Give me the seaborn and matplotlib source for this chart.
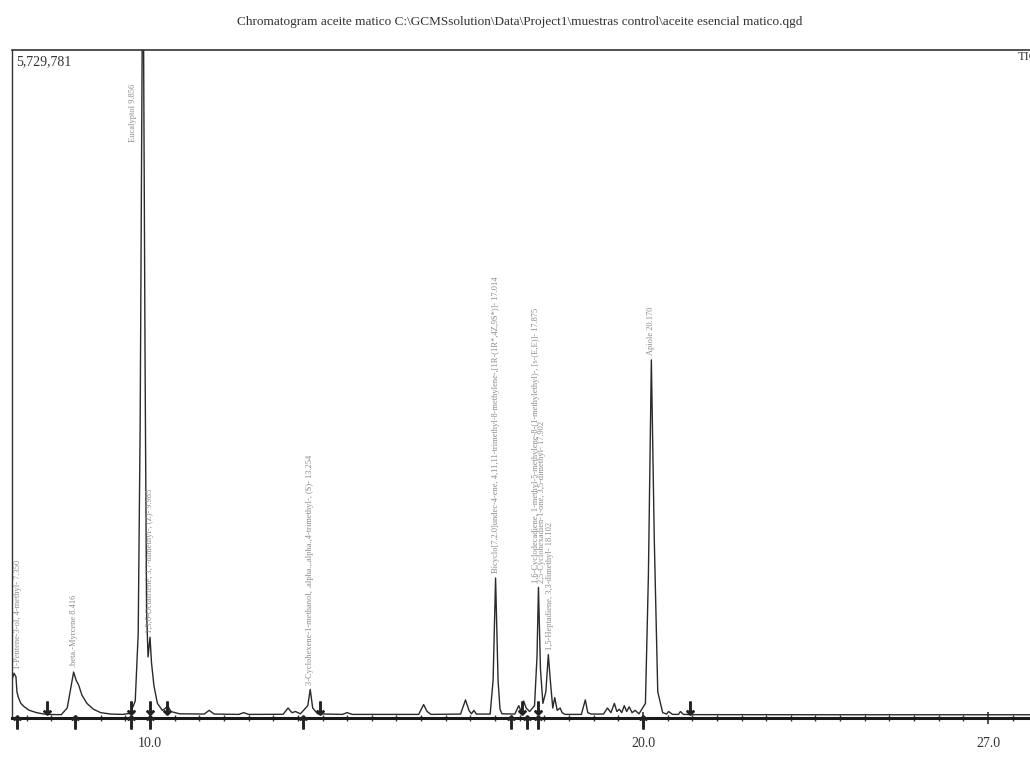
import numpy as np
import pandas as pd
import seaborn as sns
import matplotlib.pyplot as plt

# TIC trace (retention time in min, intensity in counts)
ret_time = [7.20, 7.24, 7.28, 7.30, 7.33, 7.38, 7.45, 7.55, 7.70, 7.85, 8.00, 8.20, 8.32,
            8.40, 8.45, 8.50, 8.55, 8.62, 8.72, 8.85, 9.00, 9.20, 9.45, 9.60, 9.70,
            9.76, 9.80, 9.84, 9.87, 9.90, 9.93, 9.96, 10.00, 10.03, 10.08, 10.15, 10.25,
            10.32, 10.36, 10.42, 10.60, 11.10, 11.20, 11.30, 11.80, 11.90, 12.00, 12.70,
            12.80, 12.88, 12.95, 13.05, 13.20, 13.25, 13.30, 13.40, 13.90, 14.00, 14.10,
            15.45, 15.55, 15.62, 15.70, 16.30, 16.40, 16.47, 16.52, 16.57, 16.62, 16.90,
            16.96, 17.01, 17.06, 17.10, 17.14, 17.40, 17.48, 17.53, 17.58, 17.63, 17.70,
            17.80, 17.85, 17.88, 17.92, 17.97, 18.03, 18.08, 18.12, 18.17, 18.21, 18.26,
            18.32, 18.36, 18.42, 18.75, 18.83, 18.88, 18.95, 19.20, 19.28, 19.35, 19.42,
            19.47, 19.52, 19.57, 19.62, 19.67, 19.72, 19.78, 19.84, 19.92, 20.05, 20.11,
            20.17, 20.23, 20.30, 20.40, 20.48, 20.52, 20.60, 20.72, 20.76, 20.82, 21.00,
            24.00, 28.50]
intensity = [300000, 360000, 330000, 200000, 150000, 100000, 70000, 40000, 20000, 8000, 4000, 3000, 60000,
             250000, 370000, 300000, 260000, 170000, 100000, 50000, 20000, 8000, 5000, 15000, 120000,
             700000, 2500000, 5729781, 5729781, 3000000, 900000, 500000, 670000, 450000, 250000, 100000, 40000,
             60000, 80000, 30000, 10000, 8000, 40000, 8000, 5000, 20000, 5000, 6000,
             60000, 20000, 30000, 10000, 80000, 220000, 60000, 10000, 5000, 20000, 5000,
             5000, 90000, 30000, 5000, 8000, 130000, 40000, 10000, 40000, 8000, 8000,
             300000, 1180000, 300000, 50000, 10000, 8000, 80000, 30000, 120000, 60000, 30000,
             80000, 500000, 1100000, 400000, 100000, 200000, 520000, 300000, 60000, 150000, 40000,
             60000, 20000, 5000, 5000, 130000, 20000, 8000, 8000, 60000, 20000, 100000,
             30000, 50000, 20000, 80000, 30000, 70000, 20000, 40000, 10000, 100000, 1200000,
             3060000, 1500000, 200000, 20000, 8000, 30000, 5000, 5000, 30000, 5000, 3000,
             2000, 2000]

# peak identifications (label position in min, label base height, label)
label_rt = [7.33, 8.45, 9.66, 10.00, 13.25, 17.01, 17.82, 17.96, 18.12, 20.17]
label_base = [360000, 370000, 4900000, 670000, 220000, 1180000, 1100000, 1100000, 520000, 3060000]
peak_name = [
    "1-Pentene-3-ol, 4-methyl- 7.350",
    ".beta.-Myrcene 8.416",
    "Eucalyptol 9.856",
    "1,3,6-Octatriene, 3,7-dimethyl-, (Z)- 9.985",
    "3-Cyclohexene-1-methanol, .alpha.,.alpha.,4-trimethyl-, (S)- 13.254",
    "Bicyclo[7.2.0]undec-4-ene, 4,11,11-trimethyl-8-methylene-,[1R-(1R*,4Z,9S*)]- 17.014",
    "1,6-Cyclodecadiene, 1-methyl-5-methylene-8-(1-methylethyl)-, [s-(E,E)]- 17.875",
    "2,5-Cyclohexadien-1-one, 3,5-dimethyl- 17.902",
    "1,5-Heptadiene, 3,3-dimethyl- 18.102",
    "Apiole 20.170",
]

# integration markers on the baseline
mark_down = [7.90, 9.62, 10.00, 10.35, 13.45, 17.55, 17.88, 20.95]
mark_up = [7.30, 8.48, 9.62, 10.00, 13.10, 17.32, 17.65, 17.88, 20.00]

df = pd.DataFrame({"time": ret_time, "tic": intensity})

sns.set_theme(style="white")
plt.rcParams["font.family"] = ["Liberation Serif", "DejaVu Serif"]

fig = plt.figure(figsize=(10.3, 7.6), dpi=100)
ax = fig.add_axes([12 / 1030, 42 / 760, 1048 / 1030, 668 / 760])

sns.lineplot(data=df, x="time", y="tic", ax=ax, color="#2a2a2a", linewidth=1.0,
             estimator=None, sort=False)

ax.set_xlim(7.2, 28.46)
ax.set_ylim(-26000, 5729781)

for rt, h, name in zip(label_rt, label_base, peak_name):
    ax.text(rt, h + 40000, name, rotation=90, ha="center", va="bottom",
            fontsize=6, color="#8a8a8a", clip_on=False)

ax.scatter(mark_down, [60000] * len(mark_down), marker=r"$\downarrow$", s=90,
           color="#222222", zorder=4)
ax.scatter(mark_up, [-60000] * len(mark_up), marker=r"$\uparrow$", s=90,
           color="#222222", zorder=4, clip_on=False)

ax.set_xticks([10.0, 20.0, 27.0])
ax.set_xticklabels(["10.0", "20.0", "27.0"])
ax.set_xticks(np.arange(7.5, 28.5, 0.5), minor=True)
ax.tick_params(axis="x", which="major", direction="inout", length=8, width=1.2,
               labelsize=10, pad=10, colors="#333333", bottom=True)
ax.tick_params(axis="x", which="minor", direction="inout", length=5, width=1.0,
               bottom=True, color="#333333")
ax.set_yticks([])
ax.set_xlabel("")
ax.set_ylabel("")

ax.spines["right"].set_visible(False)
ax.spines["bottom"].set_linewidth(2.2)
ax.spines["bottom"].set_color("#1a1a1a")
ax.spines["left"].set_linewidth(1.0)
ax.spines["left"].set_color("#333333")
ax.spines["top"].set_linewidth(1.2)
ax.spines["top"].set_color("#333333")

ax.text(0.004, 0.992, "5,729,781", transform=ax.transAxes, ha="left", va="top",
        fontsize=10, color="#333333")
fig.text(1018 / 1030, 1 - 57 / 760, "TIC", ha="left", va="center",
         fontsize=9, color="#333333")
fig.text(520 / 1030, 1 - 22 / 760,
         "Chromatogram aceite matico C:\\GCMSsolution\\Data\\Project1\\muestras control\\aceite esencial matico.qgd",
         ha="center", va="center", fontsize=9.5, color="#333333")

fig.savefig("out.png", dpi=100)
plt.close(fig)
